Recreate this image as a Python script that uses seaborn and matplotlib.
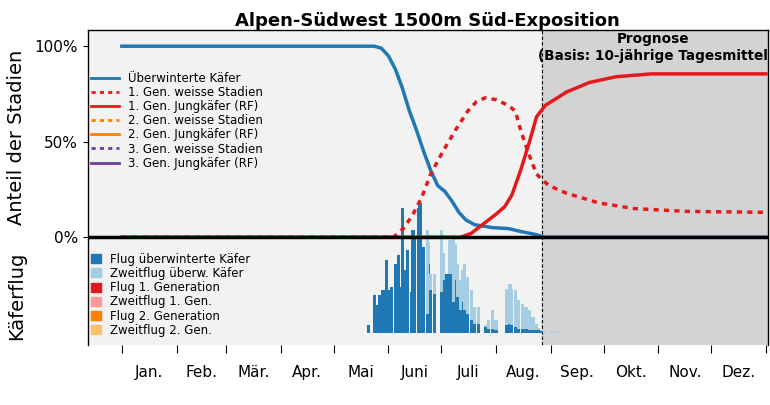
import numpy as np
import pandas as pd
import seaborn as sns
from matplotlib import pyplot as plt
from matplotlib.patches import Patch
from matplotlib.lines import Line2D

# Stadien-Kurven (Tag im Jahr, Anteil)
blue_days = [0, 100, 143, 147, 151, 155, 159, 163, 167, 171, 175, 179, 183, 187, 191, 195, 200, 210, 219, 226, 234, 240, 365]
blue_vals = [1.0, 1.0, 1.0, 0.99, 0.95, 0.88, 0.78, 0.66, 0.56, 0.45, 0.35, 0.27, 0.24, 0.19, 0.13, 0.09, 0.065, 0.05, 0.045, 0.03, 0.015, 0.0, 0.0]
wd1_days = [0, 154, 160, 165, 170, 175, 182, 189, 196, 201, 206, 212, 219, 223, 226, 230, 235, 242, 252, 270, 290, 320, 365]
wd1_vals = [0, 0, 0.05, 0.12, 0.21, 0.33, 0.45, 0.56, 0.66, 0.71, 0.73, 0.72, 0.69, 0.66, 0.56, 0.45, 0.33, 0.27, 0.23, 0.18, 0.15, 0.135, 0.13]
jk1_days = [0, 192, 198, 205, 212, 217, 221, 226, 231, 235, 240, 252, 265, 280, 300, 365]
jk1_vals = [0, 0, 0.02, 0.07, 0.12, 0.16, 0.22, 0.35, 0.50, 0.63, 0.69, 0.76, 0.81, 0.84, 0.855, 0.855]

# Flug (Tag, überwinterte Käfer, Zweitflug) in Pixelhöhe
fl_days = [140, 143, 145, 146, 148, 149, 150, 152, 153, 155, 157, 158, 159, 161, 162, 164, 165, 166, 168, 169,
           171, 173, 174, 175, 177, 181, 182, 184, 186, 188, 189, 190, 192, 193, 194, 196, 198, 200, 202,
           206, 208, 210, 212, 218, 220, 221, 223, 225, 227, 229, 231, 233, 235, 236, 238, 240, 244, 247]
fl_main = [8, 38, 28, 38, 43, 23, 73, 43, 46, 69, 78, 46, 125, 63, 83, 41, 103, 96, 125, 130,
           86, 19, 69, 43, 39, 41, 53, 59, 59, 31, 53, 36, 23, 31, 23, 19, 13, 9, 9,
           6, 4, 4, 3, 8, 9, 8, 6, 4, 4, 4, 3, 3, 3, 3, 2, 0, 0, 0]
fl_second = [0, 0, 0, 0, 0, 0, 0, 0, 0, 0, 0, 0, 0, 0, 0, 0, 0, 0, 0, 0,
             0, 84, 21, 16, 20, 62, 27, 0, 34, 65, 36, 33, 30, 32, 46, 37, 30, 17, 17,
             2, 9, 19, 10, 36, 40, 36, 37, 29, 25, 22, 20, 13, 6, 2, 1, 1, 2, 1]

month_starts = [0, 31, 59, 90, 120, 151, 181, 212, 243, 273, 304, 334, 365]
month_labels = ["Jan.", "Feb.", "Mär.", "Apr.", "Mai", "Juni", "Juli", "Aug.", "Sep.", "Okt.", "Nov.", "Dez."]
forecast_start = 238

BLUE, RED = "#1f78b4", "#e31a1c"

fig = plt.figure(figsize=(7.7, 4.05), dpi=100)
ax = fig.add_axes([0.114, 0.148, 0.883, 0.778])
ax.set_facecolor("#f2f2f2")
ax.set_xlim(-19.3, 366)
ax.set_ylim(-0.565, 1.085)
ax.axvspan(forecast_start, 400, color="#d3d3d3", zorder=0)
ax.axvline(forecast_start, color="black", ls=(0, (3, 2)), lw=0.8, zorder=1)

base = -0.503
scale = 1 / 191
main = np.array(fl_main) * scale
second = np.array(fl_second) * scale
ax.bar(fl_days, main, width=1.8, bottom=base, color=BLUE, zorder=2, linewidth=0)
ax.bar(fl_days, second, width=1.8, bottom=base + main, color="#a6cee3", zorder=2, linewidth=0)

sns.lineplot(x=blue_days, y=blue_vals, ax=ax, color=BLUE, lw=2.5, zorder=4)
sns.lineplot(x=wd1_days, y=wd1_vals, ax=ax, color=RED, lw=2.5, ls=(0, (1.5, 1.5)), zorder=4)
sns.lineplot(x=jk1_days, y=jk1_vals, ax=ax, color=RED, lw=2.5, zorder=4)
ax.axhline(0, color="black", lw=2.5, zorder=5)

ax.text(301, 0.995, "Prognose\n(Basis: 10-jährige Tagesmittel", ha="center", va="center",
        fontsize=9.8, fontweight="bold", linespacing=1.3)

ax.set_yticks([0, 0.5, 1.0])
ax.set_yticklabels(["0%", "50%", "100%"], fontsize=11)
ax.set_xticks(month_starts)
ax.set_xticklabels([])
ax.set_xticks([(a + b) / 2 for a, b in zip(month_starts[:-1], month_starts[1:])], minor=True)
ax.set_xticklabels(month_labels, minor=True, fontsize=11)
ax.tick_params(axis="x", which="minor", length=0, pad=14)
ax.tick_params(axis="x", which="major", length=6)
for s in ax.spines.values():
    s.set_linewidth(1)
ax.spines["bottom"].set_visible(False)
ax.set_title("Alpen-Südwest 1500m Süd-Exposition", fontsize=13, fontweight="bold", pad=3)
fig.text(0.022, 0.66, "Anteil der Stadien", rotation=90, ha="center", va="center", fontsize=14)
fig.text(0.022, 0.27, "Käferflug", rotation=90, ha="center", va="center", fontsize=14)

line_handles = [
    Line2D([], [], color=BLUE, lw=2, label="Überwinterte Käfer"),
    Line2D([], [], color=RED, lw=2, ls=(0, (1.5, 1.5)), label="1. Gen. weisse Stadien"),
    Line2D([], [], color=RED, lw=2, label="1. Gen. Jungkäfer (RF)"),
    Line2D([], [], color="#ff7f00", lw=2, ls=(0, (1.5, 1.5)), label="2. Gen. weisse Stadien"),
    Line2D([], [], color="#ff7f00", lw=2, label="2. Gen. Jungkäfer (RF)"),
    Line2D([], [], color="#6a3d9a", lw=2, ls=(0, (1.5, 1.5)), label="3. Gen. weisse Stadien"),
    Line2D([], [], color="#6a3d9a", lw=2, label="3. Gen. Jungkäfer (RF)"),
]
leg1 = ax.legend(handles=line_handles, loc="upper left", bbox_to_anchor=(-0.005, 0.89), frameon=False,
                 fontsize=8.5, handlelength=2.3, labelspacing=0.1, borderaxespad=0.2)
ax.add_artist(leg1)
bar_handles = [Patch(color=c, label=l) for c, l in [
    (BLUE, "Flug überwinterte Käfer"), ("#a6cee3", "Zweitflug überw. Käfer"),
    (RED, "Flug 1. Generation"), ("#fb9a99", "Zweitflug 1. Gen."),
    ("#ff7f00", "Flug 2. Generation"), ("#fdbf6f", "Zweitflug 2. Gen.")]]
ax.legend(handles=bar_handles, loc="upper left", bbox_to_anchor=(-0.005, 0.315), frameon=False,
          fontsize=8.5, handlelength=0.8, handleheight=0.8, labelspacing=0.1, borderaxespad=0.2)

fig.savefig("out.png", dpi=100)
